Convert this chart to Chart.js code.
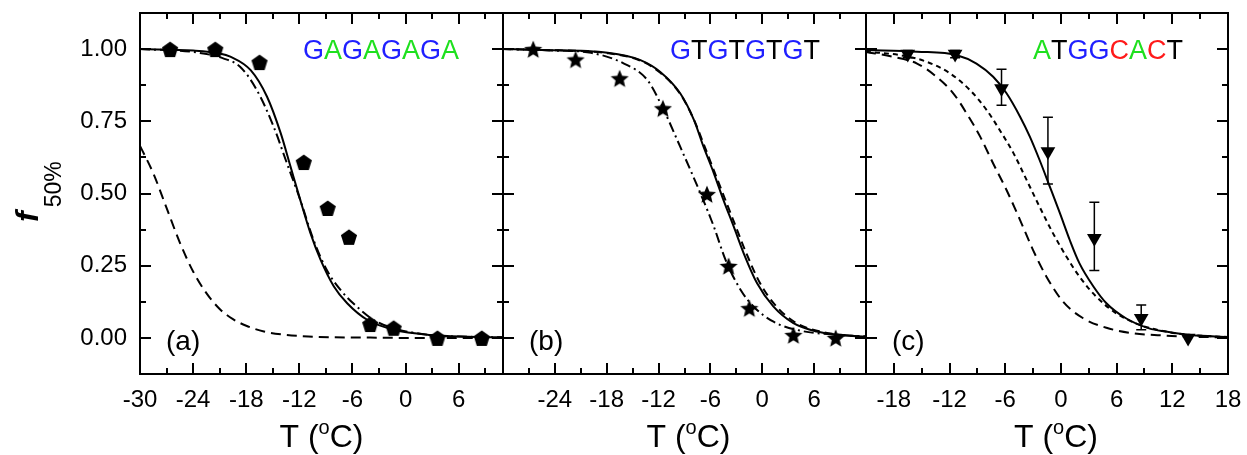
<!DOCTYPE html>
<html>
<head>
<meta charset="utf-8">
<script src="https://cdn.jsdelivr.net/npm/chart.js@4.4.1/dist/chart.umd.min.js"></script>
<style>
  body { margin: 0; background: #fff; }
  #wrap { position: relative; width: 1247px; height: 455px; }
  #wrap canvas { position: absolute; left: 0; top: 0; }
</style>
</head>
<body>
<div id="wrap">
  <canvas id="pa" width="1247" height="455"></canvas>
  <canvas id="pb" width="1247" height="455"></canvas>
  <canvas id="pc" width="1247" height="455"></canvas>
</div>
<script>
// ---- tick labels ----
const yTicks = [0, 0.25, 0.5, 0.75, 1.0];
const yMinor = [0.125, 0.375, 0.625, 0.875];
const xTicksA = [-30, -24, -18, -12, -6, 0, 6];
const xMinorA = [-27, -21, -15, -9, -3, 3, 9];
const xTicksB = [-24, -18, -12, -6, 0, 6];
const xMinorB = [-27, -21, -15, -9, -3, 3, 9];
const xTicksC = [-18, -12, -6, 0, 6, 12, 18];
const xMinorC = [-15, -9, -3, 3, 9, 15];

// ---- (a) GAGAGAGA ----
const seqA = "GAGAGAGA";
const ptsAT = [-26.6, -21.5, -16.5, -11.5, -8.8, -6.4, -4.0, -1.35, 3.6, 8.6];
const ptsAF = [1.0, 1.0, 0.955, 0.609, 0.45, 0.35, 0.048, 0.035, 0.0, 0.0];
const solidAT = [-30, -24, -21, -19.8, -17.5, -15.65, -14.1, -13.0, -11.9, -10.75, -9.6, -8.1, -6.6, -4.3, -1.3, 2.8, 7, 11];
const solidAF = [1.0, 0.995, 0.985, 0.974, 0.927, 0.835, 0.708, 0.593, 0.478, 0.363, 0.27, 0.178, 0.12, 0.062, 0.028, 0.01, 0.004, 0.002];
const dotDashAT = [-30, -24, -20.6, -18.7, -16.8, -14.9, -13.4, -11.9, -10.4, -8.9, -7.35, -5.5, -3.6, -1.3, 2.8, 7, 11];
const dotDashAF = [1.0, 0.99, 0.968, 0.939, 0.858, 0.731, 0.604, 0.478, 0.339, 0.235, 0.166, 0.108, 0.062, 0.033, 0.01, 0.004, 0.002];
const dashAT = [-30, -28.5, -27, -25.5, -24, -22.5, -21, -19.5, -18, -16, -14, -11, -8, -4, 0, 11];
const dashAF = [0.665, 0.57, 0.45, 0.33, 0.23, 0.155, 0.10, 0.065, 0.042, 0.022, 0.012, 0.005, 0.002, 0.001, 0, 0];

// ---- (b) GTGTGTGT ----
const seqB = "GTGTGTGT";
const ptsBT = [-26.5, -21.6, -16.5, -11.5, -6.4, -3.9, -1.5, 3.6, 8.5];
const ptsBF = [1.0, 0.964, 0.899, 0.795, 0.498, 0.249, 0.103, 0.01, 0.0];
const solidBT = [-30, -25.6, -17.9, -14.1, -11.8, -9.5, -7.9, -6.8, -5.6, -4.5, -3.3, -2.15, -0.6, 1.3, 3.6, 6.3, 9.0, 12];
const solidBF = [1.0, 0.997, 0.987, 0.962, 0.921, 0.847, 0.754, 0.662, 0.570, 0.478, 0.385, 0.293, 0.189, 0.108, 0.051, 0.022, 0.01, 0.004];
const dashBT = [-30, -25.6, -17.9, -14.1, -11.8, -9.5, -7.9, -6.7, -5.5, -4.3, -3.1, -1.9, -0.3, 1.6, 3.9, 6.6, 9.3, 12];
const dashBF = [1.0, 0.997, 0.986, 0.960, 0.918, 0.845, 0.755, 0.665, 0.572, 0.48, 0.388, 0.297, 0.192, 0.11, 0.052, 0.023, 0.01, 0.004];
const dotDashBT = [-30, -24, -19.8, -16.0, -13.3, -11.4, -9.5, -7.15, -5.6, -4.25, -2.5, -1.0, 1.3, 4.4, 9, 12];
const dotDashBF = [1.0, 0.995, 0.987, 0.950, 0.893, 0.789, 0.662, 0.50, 0.385, 0.27, 0.166, 0.108, 0.056, 0.025, 0.01, 0.005];

// ---- (c) ATGGCACT ----
const seqC = "ATGGCACT";
const ptsCT = [-16.5, -11.4, -6.4, -1.4, 3.6, 8.65, 13.7];
const ptsCF = [0.983, 0.983, 0.864, 0.645, 0.345, 0.068, 0.0];
const errCLo = [0.97, 0.97, 0.806, 0.533, 0.233, 0.028, 0.0];
const errCHi = [0.995, 0.995, 0.93, 0.764, 0.47, 0.114, 0.0];
const solidCT = [-21, -15.5, -11.2, -9.1, -7.3, -5.86, -4.4, -3.35, -2.3, -1.2, -0.1, 0.95, 2.0, 3.5, 4.9, 7.0, 9.5, 11.3, 14, 18];
const solidCF = [0.997, 0.991, 0.979, 0.950, 0.904, 0.847, 0.766, 0.697, 0.616, 0.524, 0.431, 0.339, 0.258, 0.178, 0.12, 0.068, 0.033, 0.022, 0.01, 0.003];
const shortCT = [-21, -17.3, -14.45, -11.95, -9.8, -8.0, -6.6, -5.1, -3.7, -2.3, -0.85, 0.6, 2.0, 3.8, 5.96, 8.5, 11.3, 14, 18];
const shortCF = [0.991, 0.979, 0.956, 0.916, 0.858, 0.789, 0.72, 0.639, 0.547, 0.454, 0.362, 0.281, 0.212, 0.143, 0.085, 0.045, 0.022, 0.01, 0.003];
const longCT = [-21, -18.0, -15.5, -13.4, -11.6, -10.15, -8.7, -7.3, -5.86, -4.4, -3.0, -1.56, 0.24, 2.4, 4.9, 7.8, 11.3, 14, 18];
const longCF = [0.99, 0.973, 0.950, 0.904, 0.847, 0.777, 0.697, 0.604, 0.512, 0.408, 0.304, 0.212, 0.125, 0.068, 0.035, 0.016, 0.008, 0.004, 0.002];

const baseColor = { G: '#1f1fff', A: '#1ee01e', T: '#000000', C: '#ff1a1a' };
const FONT = "'Liberation Sans', Arial, sans-serif";

const xy = (xs, ys) => xs.map((v, i) => ({ x: v, y: ys[i] }));

function makeMarker(kind, size) {
  const c = document.createElement('canvas');
  c.width = c.height = size;
  const g = c.getContext('2d');
  const cx = size / 2, cy = size / 2, R = size / 2 - 0.5;
  g.beginPath();
  if (kind === 'pentagon') {
    for (let i = 0; i < 5; i++) {
      const a = -Math.PI / 2 + i * 2 * Math.PI / 5;
      g.lineTo(cx + R * Math.cos(a), cy + 1 + R * Math.sin(a));
    }
  } else {
    for (let i = 0; i < 10; i++) {
      const r = i % 2 ? R * 0.45 : R;
      const a = -Math.PI / 2 + i * Math.PI / 5;
      g.lineTo(cx + r * Math.cos(a), cy + 1 + r * Math.sin(a));
    }
  }
  g.closePath();
  g.fillStyle = '#000';
  g.fill();
  return c;
}
const pentagon = makeMarker('pentagon', 18);
const star = makeMarker('star', 20);

function curve(data, dash) {
  return {
    data, showLine: true, pointRadius: 0, borderColor: '#000', borderWidth: 2,
    borderDash: dash, cubicInterpolationMode: 'monotone', fill: false
  };
}
function marks(data, style, extra) {
  return Object.assign({
    data, showLine: false, pointStyle: style, pointRadius: 8,
    backgroundColor: '#000', borderColor: '#000', borderWidth: 0
  }, extra || {});
}

// inward ticks on all four sides plus frame
const framePlugin = {
  id: 'frame',
  afterDraw(chart, args, o) {
    const { ctx, chartArea: a, scales: { x, y } } = chart;
    ctx.save();
    ctx.strokeStyle = '#000';
    ctx.lineWidth = 2;
    ctx.strokeRect(a.left, a.top, a.right - a.left, a.bottom - a.top);
    ctx.beginPath();
    const tx = (vals, len) => vals.forEach(v => {
      const p = Math.round(x.getPixelForValue(v));
      ctx.moveTo(p, a.bottom); ctx.lineTo(p, a.bottom - len);
      ctx.moveTo(p, a.top); ctx.lineTo(p, a.top + len);
    });
    const ty = (vals, len) => vals.forEach(v => {
      const p = Math.round(y.getPixelForValue(v));
      ctx.moveTo(a.left, p); ctx.lineTo(a.left + len, p);
      ctx.moveTo(a.right, p); ctx.lineTo(a.right - len, p);
    });
    tx(o.xMajor, 11); tx(o.xMinor, 6);
    ty(yTicks, 11); ty(yMinor, 6);
    ctx.stroke();
    ctx.restore();
  }
};

const errPlugin = {
  id: 'errbars',
  beforeDatasetsDraw(chart, args, o) {
    if (!o.xs) return;
    const { ctx, scales: { x, y } } = chart;
    ctx.save();
    ctx.strokeStyle = '#000';
    ctx.lineWidth = 1.5;
    ctx.beginPath();
    o.xs.forEach((v, i) => {
      if (o.hi[i] === o.lo[i]) return;
      const px = x.getPixelForValue(v);
      const y1 = y.getPixelForValue(o.hi[i]), y2 = y.getPixelForValue(o.lo[i]);
      ctx.moveTo(px, y1); ctx.lineTo(px, y2);
      ctx.moveTo(px - 5, y1); ctx.lineTo(px + 5, y1);
      ctx.moveTo(px - 5, y2); ctx.lineTo(px + 5, y2);
    });
    ctx.stroke();
    ctx.restore();
  }
};

const notesPlugin = {
  id: 'notes',
  afterDraw(chart, args, o) {
    const { ctx, chartArea: a } = chart;
    ctx.save();
    ctx.textBaseline = 'alphabetic';
    // sequence
    ctx.font = `27px ${FONT}`;
    let sx = a.left + o.seqX;
    for (const ch of o.seq) {
      ctx.fillStyle = baseColor[ch];
      ctx.fillText(ch, sx, a.top + 46);
      sx += ctx.measureText(ch).width;
    }
    // panel label
    ctx.fillStyle = '#000';
    ctx.font = `28px ${FONT}`;
    ctx.fillText(o.label, a.left + 26, 350);
    // x title  T (°C)
    const big = `32px ${FONT}`, small = `20px ${FONT}`;
    ctx.font = big; const w1 = ctx.measureText('T (').width, w3 = ctx.measureText('C)').width;
    ctx.font = small; const w2 = ctx.measureText('o').width;
    let tx = (a.left + a.right) / 2 + o.titleDx - (w1 + w2 + w3) / 2;
    ctx.font = big; ctx.fillText('T (', tx, 447); tx += w1;
    ctx.font = small; ctx.fillText('o', tx, 434); tx += w2;
    ctx.font = big; ctx.fillText('C)', tx, 447);
    // y title
    if (o.yTitle) {
      ctx.translate(38, 222);
      ctx.rotate(-Math.PI / 2);
      ctx.font = `italic bold 32px ${FONT}`;
      ctx.fillText('f', 0, 0);
      const fw = ctx.measureText('f').width;
      ctx.font = `23px ${FONT}`;
      ctx.fillText('50%', fw + 4, 23);
    }
    ctx.restore();
  }
};

function fixPad(s) { s.paddingLeft = s.paddingRight = s.paddingTop = s.paddingBottom = 0; }

function panel(id, p) {
  // the y axis box fills the left margin on panel (a) so its labels are not clipped
  const yW = p.yLabels ? p.left : 0;
  return new Chart(document.getElementById(id), {
    type: 'scatter',
    data: { datasets: p.datasets },
    options: {
      responsive: false, animation: false, devicePixelRatio: 1,
      layout: { autoPadding: false, padding: { left: p.left - yW, right: 1247 - p.right, top: 13, bottom: 0 } },
      plugins: {
        legend: { display: false }, tooltip: { enabled: false },
        frame: { xMajor: p.xTicks, xMinor: p.xMinor },
        notes: p.notes,
        errbars: p.err || {}
      },
      scales: {
        x: {
          type: 'linear', min: p.min, max: p.max,
          afterBuildTicks: s => { s.ticks = p.xTicks.map(v => ({ value: v })); },
          afterFit: s => { s.height = 81; fixPad(s); },
          grid: { display: false, drawTicks: false }, border: { display: false },
          ticks: { color: '#000', font: { family: FONT, size: 24 }, padding: 12, maxRotation: 0, autoSkip: false }
        },
        y: {
          type: 'linear', min: -0.125, max: 1.125,
          afterBuildTicks: s => { s.ticks = yTicks.map(v => ({ value: v })); },
          afterFit: s => { s.width = yW; fixPad(s); },
          grid: { display: false, drawTicks: false }, border: { display: false },
          ticks: { display: p.yLabels, color: '#000', font: { family: FONT, size: 24 }, padding: 13,
                   callback: v => Number(v).toFixed(2) }
        }
      }
    },
    plugins: [framePlugin, errPlugin, notesPlugin]
  });
}

panel('pa', {
  left: 140, right: 503, min: -30, max: 11, xTicks: xTicksA, xMinor: xMinorA, yLabels: true,
  notes: { seq: seqA, seqX: 163, label: '(a)', titleDx: 0, yTitle: true },
  datasets: [
    marks(xy(ptsAT, ptsAF), pentagon),
    curve(xy(solidAT, solidAF), []),
    curve(xy(dotDashAT, dotDashAF), [10, 4, 2, 4]),
    curve(xy(dashAT, dashAF), [10, 6])
  ]
});

panel('pb', {
  left: 503, right: 866, min: -30, max: 12, xTicks: xTicksB, xMinor: xMinorB, yLabels: false,
  notes: { seq: seqB, seqX: 167, label: '(b)', titleDx: 4, yTitle: false },
  datasets: [
    marks(xy(ptsBT, ptsBF), star),
    curve(xy(solidBT, solidBF), []),
    curve(xy(dashBT, dashBF), [8, 5]),
    curve(xy(dotDashBT, dotDashBF), [10, 4, 2, 4])
  ]
});

panel('pc', {
  left: 866, right: 1228, min: -21, max: 18, xTicks: xTicksC, xMinor: xMinorC, yLabels: false,
  notes: { seq: seqC, seqX: 167, label: '(c)', titleDx: 9, yTitle: false },
  err: { xs: ptsCT, lo: errCLo, hi: errCHi },
  datasets: [
    marks(xy(ptsCT, ptsCF), 'triangle', { rotation: 180, pointRadius: 8.5 }),
    curve(xy(solidCT, solidCF), []),
    curve(xy(shortCT, shortCF), [5, 4]),
    curve(xy(longCT, longCF), [10, 6])
  ]
});
</script>
</body>
</html>
